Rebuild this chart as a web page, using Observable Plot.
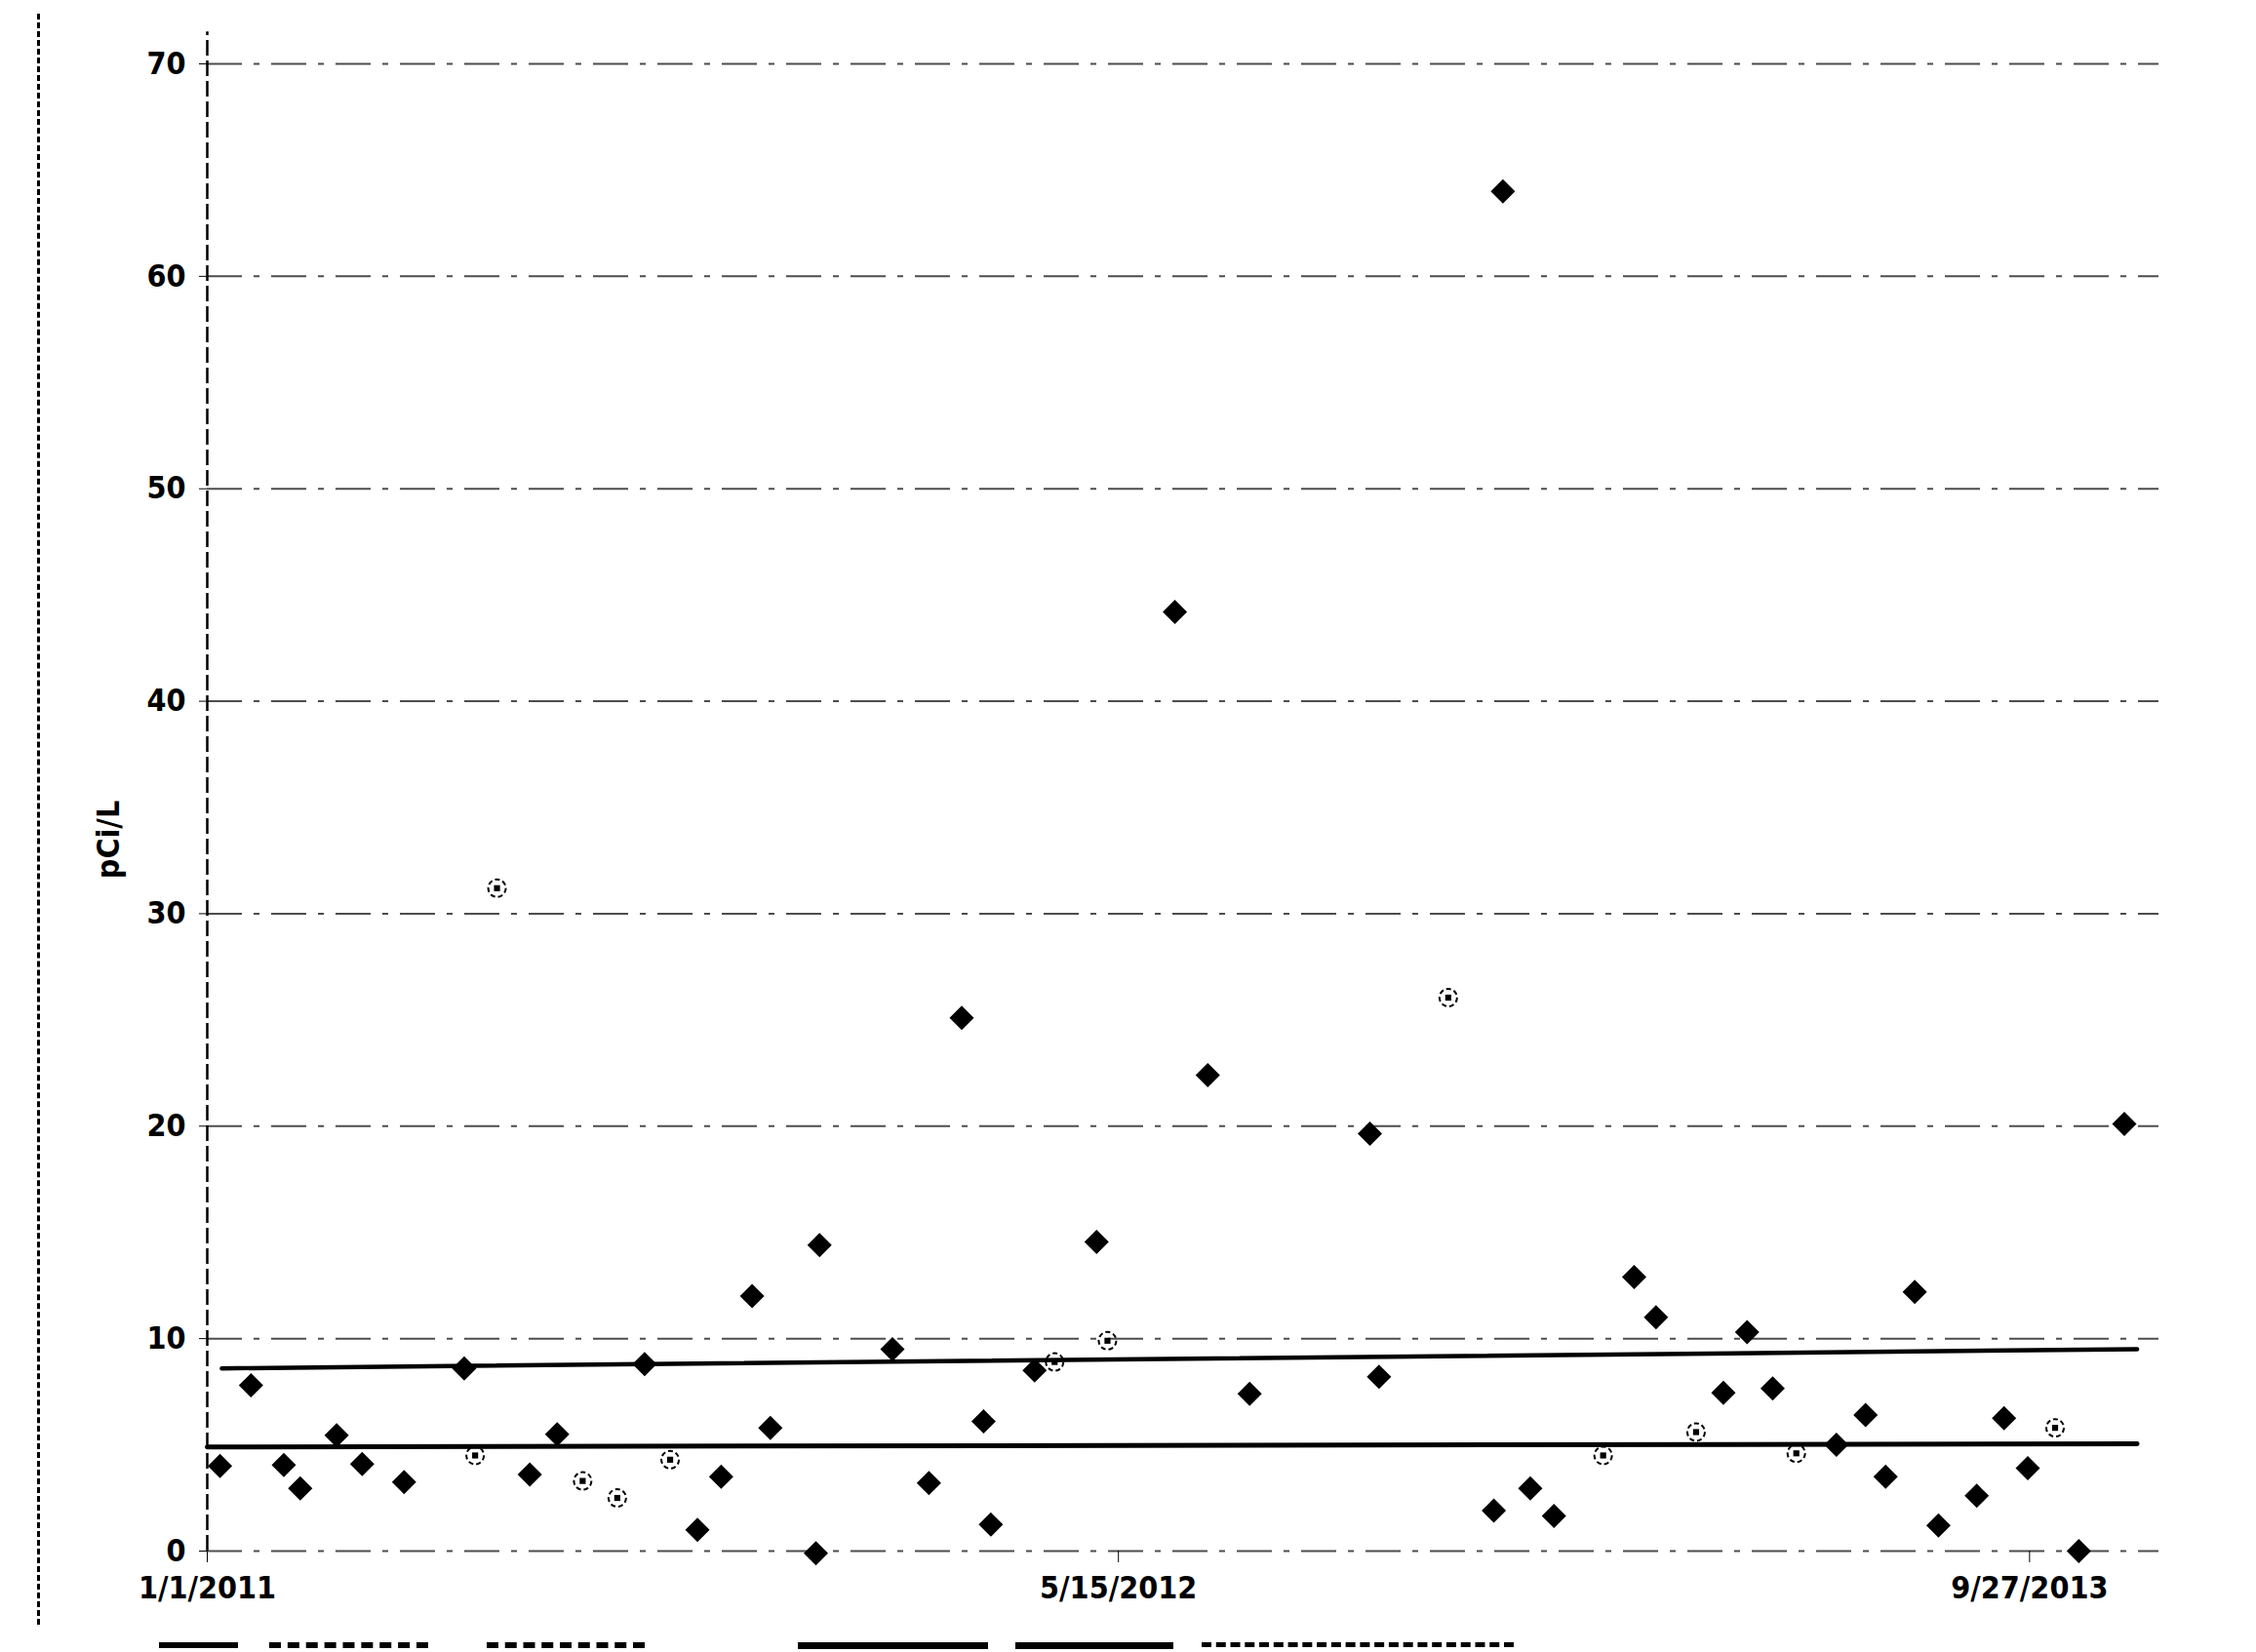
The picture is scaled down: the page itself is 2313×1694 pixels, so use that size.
<!DOCTYPE html>
<html>
<head>
<meta charset="utf-8">
<script src="https://cdn.jsdelivr.net/npm/d3@7"></script>
<script src="https://cdn.jsdelivr.net/npm/@observablehq/plot@0.6"></script>
<style>
  html, body { margin: 0; padding: 0; background: #fff; }
  body { width: 2313px; height: 1694px; overflow: hidden; position: relative;
         font-family: "Liberation Sans Narrow", "DejaVu Sans Condensed", "Liberation Sans", sans-serif; }
  #chart { position: absolute; left: 0; top: 0; z-index: 1; }
  #frame { position: absolute; left: 38px; top: 14px; height: 1652px; border-left: 3px dashed #000; z-index: 2; }
  #legend { position: absolute; top: 1684px; left: 0; width: 2313px; height: 20px; z-index: 2; }
  #legend .sw { position: absolute; top: 0; height: 0; }
</style>
</head>
<body>
<div id="chart"></div>
<div id="frame"></div>
<div id="legend"></div>
<script>
// ---- Data ----
// Filled diamonds: sample results
const sampleDates = [
  "2011-01-08","2011-01-25","2011-02-12","2011-02-21","2011-03-13","2011-03-27",
  "2011-04-19","2011-05-22","2011-06-27","2011-07-12","2011-08-29","2011-09-27",
  "2011-10-10","2011-10-27","2011-11-06","2011-12-01","2011-12-03","2012-01-12",
  "2012-02-01","2012-02-19","2012-03-02","2012-03-06","2012-03-30","2012-05-03",
  "2012-06-15","2012-07-03","2012-07-26","2012-09-30","2012-10-05","2012-12-07",
  "2012-12-12","2012-12-27","2013-01-09","2013-02-22","2013-03-06","2013-04-12",
  "2013-04-25","2013-05-09","2013-06-13","2013-06-29","2013-07-10","2013-07-26",
  "2013-08-08","2013-08-29","2013-09-13","2013-09-26","2013-10-24","2013-11-18"
];
const sampleValues = [
  4.0, 7.8, 4.05, 2.95, 5.45, 4.1,
  3.25, 8.6, 3.6, 5.5, 8.8, 1.0,
  3.5, 12.0, 5.8, -0.1, 14.4, 9.5,
  3.2, 25.1, 6.1, 1.25, 8.5, 14.55,
  44.2, 22.4, 7.4, 19.65, 8.2, 1.9,
  64.0, 2.95, 1.65, 12.9, 11.0, 7.45,
  10.3, 7.65, 5.0, 6.4, 3.5, 12.2,
  1.2, 2.6, 6.25, 3.9, 0.0, 20.1
];
// Open (faint) markers: second series
const openDates = [
  "2011-05-28","2011-06-09","2011-07-26","2011-08-14","2011-09-12","2012-04-10",
  "2012-05-09","2012-11-12","2013-02-05","2013-03-28","2013-05-22","2013-10-11"
];
const openValues = [4.5, 31.2, 3.3, 2.5, 4.3, 8.9, 9.9, 26.05, 4.5, 5.6, 4.6, 5.8];

// Two solid reference lines (start / end)
const upperLineDates = ["2011-01-09", "2013-11-25"];
const upperLineValues = [8.6, 9.5];
const meanLineDates = ["2011-01-01", "2013-11-25"];
const meanLineValues = [4.9, 5.05];

// Axes
const yTicks = [0, 10, 20, 30, 40, 50, 60, 70];
const xTickDates = ["2011-01-01", "2012-05-15", "2013-09-27"];
const xTickLabels = ["1/1/2011", "5/15/2012", "9/27/2013"];
const xDomainDates = ["2011-01-01", "2013-12-07"];
const yLabel = "pCi/L";

// ---- Build ----
const parse = d3.utcParse("%Y-%m-%d");
const samples = sampleDates.map((d, i) => ({date: parse(d), value: sampleValues[i]}));
const opens = openDates.map((d, i) => ({date: parse(d), value: openValues[i]}));
const upper = upperLineDates.map((d, i) => ({date: parse(d), value: upperLineValues[i]}));
const mean = meanLineDates.map((d, i) => ({date: parse(d), value: meanLineValues[i]}));
const xTicks = xTickDates.map(parse);
const labelByTime = new Map(xTicks.map((d, i) => [+d, xTickLabels[i]]));
const xDomain = xDomainDates.map(parse);

// Excel-like diamond
const diamond = {
  draw(context, size) {
    const h = Math.sqrt(size / Math.PI);
    context.moveTo(0, -1.25 * h);
    context.lineTo(1.25 * h, 0);
    context.lineTo(0, 1.25 * h);
    context.lineTo(-1.25 * h, 0);
    context.closePath();
  }
};

const font = `"Liberation Sans Narrow", "DejaVu Sans Condensed", "Liberation Sans", sans-serif`;

const chart = Plot.plot({
  width: 2313,
  height: 1676,
  marginLeft: 212,
  marginRight: 100,
  marginTop: 65,
  marginBottom: 86,
  style: {background: "#fff", color: "#000", fontFamily: font, fontWeight: "bold"},
  x: {type: "utc", domain: xDomain},
  y: {domain: [0, 70]},
  marks: [
    Plot.ruleY(yTicks, {stroke: "#111", strokeWidth: 2, strokeDasharray: "36,12,6,12", strokeOpacity: 0.75}),
    Plot.ruleX([xDomain[0]], {y1: 0, y2: 71.5, stroke: "#000", strokeWidth: 2.5, strokeDasharray: "16,5"}),
    Plot.line(upper, {x: "date", y: "value", stroke: "#000", strokeWidth: 4.5}),
    Plot.line(mean, {x: "date", y: "value", stroke: "#000", strokeWidth: 5}),
    Plot.dot(opens, {x: "date", y: "value", symbol: "circle", r: 9, fill: "none", stroke: "#000", strokeWidth: 2, strokeDasharray: "5,3"}),
    Plot.dot(opens, {x: "date", y: "value", symbol: "square", r: 3.5, fill: "#000", stroke: "none"}),
    Plot.dot(samples, {x: "date", y: "value", symbol: diamond, r: 10, fill: "#000", stroke: "none"}),
    Plot.axisY({
      ticks: yTicks, tickSize: 8, tickPadding: 14, fontSize: 32, fontWeight: "bold", label: null
    }),
    Plot.text([yLabel], {
      frameAnchor: "left", textAnchor: "middle", dx: -101, dy: 33, rotate: -90,
      fontSize: 32, fontWeight: "bold", fill: "#000"
    }),
    Plot.axisX({
      ticks: xTicks, tickFormat: d => labelByTime.get(+d), tickSize: 12, tickPadding: 14,
      fontSize: 32, fontWeight: "bold", label: null
    })
  ]
});
document.getElementById("chart").appendChild(chart);

// Legend strip (cut off at the bottom edge, as in the scan)
const legendSwatches = [
  {left: 163, width: 81, style: "6px solid #000"},
  {left: 276, width: 163, style: "6px dashed #000"},
  {left: 499, width: 162, style: "6px dashed #000"},
  {left: 818, width: 195, style: "7px solid #000"},
  {left: 1041, width: 162, style: "7px solid #000"},
  {left: 1232, width: 320, style: "5px dashed #000"}
];
const legend = document.getElementById("legend");
legendSwatches.forEach(s => {
  const el = document.createElement("div");
  el.className = "sw";
  el.style.left = s.left + "px";
  el.style.width = s.width + "px";
  el.style.borderTop = s.style;
  legend.appendChild(el);
});
</script>
</body>
</html>
